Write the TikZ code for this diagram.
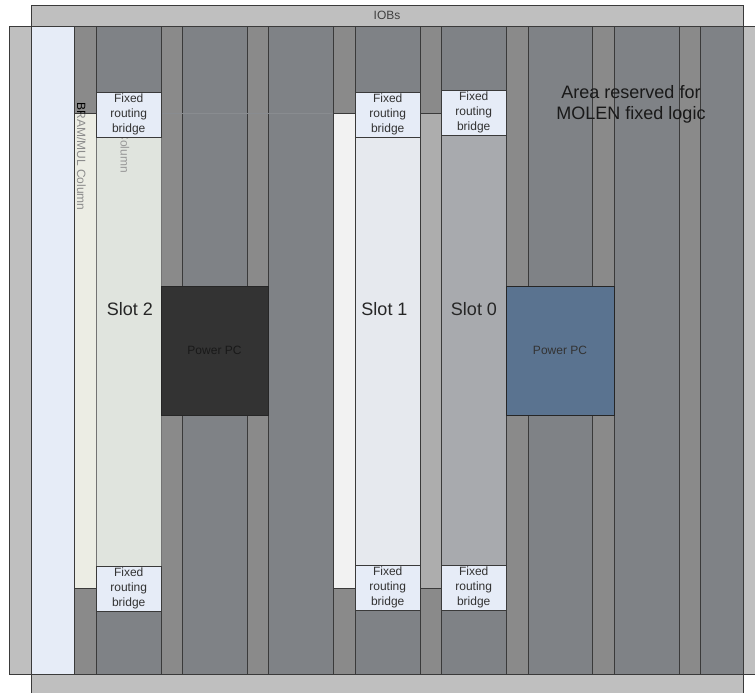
\documentclass[tikz,border=0pt]{standalone}
\usepackage{fontspec}
\setmainfont{Liberation Sans}
\definecolor{iobgray}{HTML}{BFBFBF}
\definecolor{clbgray}{HTML}{7F8286}
\definecolor{bramgray}{HTML}{8A8A8A}
\definecolor{edgegray}{HTML}{3A3A3A}
\definecolor{bridgeblue}{HTML}{E6ECF7}
\definecolor{ppcblue}{HTML}{5A7390}
\definecolor{slottwo}{HTML}{E0E4DE}
\definecolor{slottwoside}{HTML}{ECEDE4}
\definecolor{slotone}{HTML}{E6E9EE}
\definecolor{slotzero}{HTML}{A8AAAE}
\tikzset{
  clbcol/.style={draw=edgegray,fill=clbgray},
  bramcol/.style={draw=edgegray,fill=bramgray},
  bridgebox/.style={draw=edgegray,line width=1pt,fill=bridgeblue},
  bridgetext/.style={font=\fontsize{12}{15}\selectfont,align=center,text=black!80},
  slottext/.style={font=\fontsize{18}{21}\selectfont,text=black!85,align=center},
  ppctext/.style={font=\fontsize{12}{15}\selectfont},
  coltext/.style={font=\fontsize{12}{15}\selectfont,rotate=-90}
}
\begin{document}
\begin{tikzpicture}[x=1pt,y=-1pt,line width=1pt]
  \useasboundingbox (0,0) rectangle (755,693);
  % frame
  \fill[white] (0,0) rectangle (755,693);
  \draw[draw=edgegray,fill=iobgray] (31.5,5.5) rectangle (743.5,27);
  \draw[draw=edgegray,fill=iobgray] (31.5,674.5) rectangle (743.5,693);
  \fill[iobgray] (743.5,27) rectangle (755,674.5);
  \draw[draw=edgegray,fill=iobgray] (755,27) -- (9.5,27) -- (9.5,674.5) -- (755,674.5);
  \node[ppctext,text=black!75] (iobs) at (387,15.5) {IOBs};
  % columns
  \draw[draw=edgegray,fill=bridgeblue] (31.5,27) rectangle (74.5,674.5);
  \draw[bramcol] (74.5,27) rectangle (96.5,674.5);
  \draw[clbcol] (96.5,27) rectangle (161,674.5);
  \draw[bramcol] (161,27) rectangle (182.5,674.5);
  \draw[clbcol] (182.5,27) rectangle (247.5,674.5);
  \draw[bramcol] (247.5,27) rectangle (268.5,674.5);
  \draw[clbcol] (268.5,27) rectangle (333.5,674.5);
  \draw[bramcol] (333.5,27) rectangle (355.5,674.5);
  \draw[clbcol] (355.5,27) rectangle (420,674.5);
  \draw[bramcol] (420,27) rectangle (441.5,674.5);
  \draw[clbcol] (441.5,27) rectangle (506.5,674.5);
  \draw[bramcol] (506.5,27) rectangle (528,674.5);
  \draw[clbcol] (528,27) rectangle (592.5,674.5);
  \draw[bramcol] (592.5,27) rectangle (614,674.5);
  \draw[clbcol] (614,27) rectangle (679,674.5);
  \draw[bramcol] (679,27) rectangle (700.5,674.5);
  \draw[clbcol] (700.5,27) rectangle (743.5,674.5);
  \draw[clbgray!92!white,line width=.5pt] (162,113) -- (333,113);
  % slots
  \draw[draw=edgegray,fill=slottwoside] (74.5,113.5) rectangle (96.5,588);
  \draw[draw=black!55,fill=slottwo] (96.5,137) rectangle (161,566);
  \draw[draw=edgegray,fill=black!5] (333.5,113.5) rectangle (355.5,588);
  \draw[draw=edgegray,fill=slotone] (355.5,137) rectangle (420,565);
  \draw[draw=edgegray,fill=black!32] (420,113.5) rectangle (441.5,588);
  \draw[draw=edgegray,fill=slotzero] (441.5,135) rectangle (506.5,565);
  % column labels
  \node[coltext,text=black!45] (bram0) at (81.5,156.5) {BRAM/MUL Column};
  \begin{scope}
    \clip (75,27) rectangle (96,113);
    \node[coltext] (bram0top) at (81.5,156.5) {BRAM/MUL Column};
  \end{scope}
  \begin{scope}
    \clip (97,137) rectangle (160,566);
    \node[coltext,text=black!40] (bram1) at (125,119) {BRAM/MUL Column};
  \end{scope}
  % bridges
  \draw[bridgebox] (96.5,92) rectangle (161,137);
  \node[bridgetext] (b2t) at (128.7,114) {Fixed\\routing\\bridge};
  \draw[bridgebox] (96.5,566) rectangle (161,611);
  \node[bridgetext] (b2b) at (128.7,588) {Fixed\\routing\\bridge};
  \draw[bridgebox] (355.5,92) rectangle (420,137);
  \node[bridgetext] (b1t) at (387.7,114) {Fixed\\routing\\bridge};
  \draw[bridgebox] (355.5,565) rectangle (420,610);
  \node[bridgetext] (b1b) at (387.7,587) {Fixed\\routing\\bridge};
  \draw[bridgebox] (441.5,90) rectangle (506.5,135);
  \node[bridgetext] (b0t) at (473.7,112) {Fixed\\routing\\bridge};
  \draw[bridgebox] (441.5,565) rectangle (506.5,610);
  \node[bridgetext] (b0b) at (473.7,587) {Fixed\\routing\\bridge};
  % power pc
  \draw[draw=black!85,fill=black!80] (161,286) rectangle (268.5,415.5);
  \node[ppctext,text=black!90] (ppc0) at (214.5,350) {Power PC};
  \draw[draw=black!85,fill=ppcblue] (506.5,286) rectangle (614,415.5);
  \node[ppctext,text=black!80] (ppc1) at (560,350) {Power PC};
  % labels
  \node[slottext] (slot2) at (130,309) {Slot 2};
  \node[slottext] (slot1) at (384.5,309) {Slot 1};
  \node[slottext] (slot0) at (474,309) {Slot 0};
  \node[slottext,text=black!90] (area) at (631,104) {Area reserved for\\MOLEN fixed logic};
\end{tikzpicture}
\end{document}
